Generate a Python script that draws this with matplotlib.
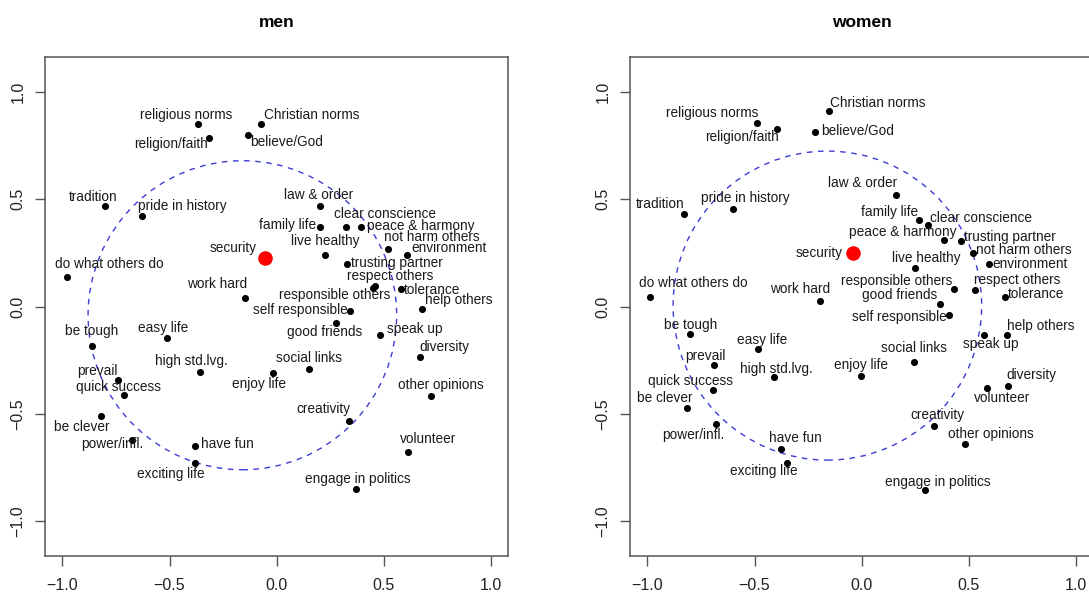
import matplotlib
matplotlib.use('Agg')
import matplotlib.pyplot as plt
from matplotlib.patches import Circle

plt.rcParams['font.family'] = ['Liberation Sans', 'DejaVu Sans']

labels = ['religious norms', 'religion/faith', 'Christian norms', 'believe/God',
          'tradition', 'pride in history', 'do what others do', 'security',
          'work hard', 'law & order', 'family life', 'clear conscience',
          'peace & harmony', 'live healthy', 'not harm others', 'environment',
          'trusting partner', 'respect others', 'responsible others', 'tolerance',
          'help others', 'self responsible', 'good friends', 'speak up',
          'diversity', 'social links', 'enjoy life', 'other opinions',
          'creativity', 'volunteer', 'engage in politics', 'be tough',
          'easy life', 'high std.lvg.', 'prevail', 'quick success',
          'be clever', 'power/infl.', 'have fun', 'exciting life']

men_x = [-0.369, -0.317, -0.071, -0.134, -0.803, -0.627, -0.979, -0.053,
         -0.146, 0.204, 0.201, 0.323, 0.395, 0.225, 0.518, 0.608,
         0.330, 0.457, 0.449, 0.579, 0.678, 0.344, 0.279, 0.481,
         0.667, 0.149, -0.017, 0.719, 0.339, 0.615, 0.372, -0.863,
         -0.510, -0.359, -0.741, -0.713, -0.820, -0.675, -0.383, -0.383]
men_y = [0.851, 0.784, 0.851, 0.801, 0.469, 0.423, 0.138, 0.229,
         0.041, 0.469, 0.373, 0.369, 0.373, 0.243, 0.268, 0.243,
         0.200, 0.094, 0.088, 0.082, -0.009, -0.021, -0.074, -0.130,
         -0.235, -0.289, -0.309, -0.417, -0.531, -0.676, -0.849, -0.184,
         -0.147, -0.303, -0.341, -0.414, -0.508, -0.621, -0.649, -0.727]

women_x = [-0.487, -0.397, -0.151, -0.219, -0.829, -0.599, -0.986, -0.040,
           -0.193, 0.162, 0.268, 0.310, 0.385, 0.251, 0.520, 0.593,
           0.462, 0.528, 0.430, 0.671, 0.676, 0.409, 0.367, 0.573,
           0.682, 0.243, -0.003, 0.481, 0.338, 0.585, 0.294, -0.800,
           -0.486, -0.408, -0.691, -0.696, -0.815, -0.678, -0.376, -0.350]
women_y = [0.854, 0.829, 0.910, 0.816, 0.434, 0.455, 0.047, 0.248,
           0.024, 0.521, 0.403, 0.380, 0.310, 0.179, 0.249, 0.201,
           0.305, 0.078, 0.083, 0.047, -0.133, -0.041, 0.013, -0.131,
           -0.372, -0.256, -0.321, -0.638, -0.554, -0.380, -0.854, -0.128,
           -0.197, -0.326, -0.273, -0.388, -0.470, -0.545, -0.662, -0.727]

# dashed circle: centre x, centre y, radius
men_circle = (-0.16, -0.04, 0.72)
women_circle = (-0.16, 0.005, 0.72)

tick_vals = [-1.0, -0.5, 0.0, 0.5, 1.0]
tick_text = ['\u22121.0', '\u22120.5', '0.0', '0.5', '1.0']

# label offsets from the dot, in pixels (right, down)
men_off = [(-11, -9), (-38, 6), (50, -9), (39, 7), (-11, -9), (40, -10),
           (42, -13), (-32, -10), (-28, -14), (-2, -11), (-32, -2), (39, -13),
           (59, -1), (0, -14), (44, -12), (42, -7), (50, -1), (16, -10),
           (-38, 7), (31, 1), (37, -9), (-50, -1), (-12, 9), (35, -6),
           (25, -10), (0, -11), (-14, 11), (10, -11), (-26, -12), (20, -13),
           (1, -10), (0, -15), (-4, -10), (-8, -11), (-21, -9), (-5, -8),
           (-19, 11), (-20, 4), (33, -2), (-24, 11)]
women_off = [(-45, -10), (-35, 8), (48, -8), (43, -1), (-24, -10), (12, -11),
             (43, -14), (-34, 0), (-20, -12), (-34, -12), (-30, -8), (53, -7),
             (-41, -8), (11, -10), (51, -3), (41, 0), (49, -4), (42, -10),
             (-57, -8), (31, -3), (34, -9), (-50, 2), (-41, -9), (6, 9),
             (24, -11), (0, -14), (0, -11), (26, -10), (3, -11), (15, 10),
             (13, -8), (0, -9), (5, -9), (2, -8), (-8, -9), (-22, -9),
             (-22, -10), (-23, 11), (14, -11), (-23, 8)]

fig = plt.figure(figsize=(10.89, 5.97), dpi=100)


def panel(rect, title, xs, ys, offs, circ):
    ax = fig.add_axes(rect)
    ax.set_xlim(-1.081, 1.081)
    ax.set_ylim(-1.162, 1.162)
    for sp in ax.spines.values():
        sp.set_color('#555555')
        sp.set_linewidth(1.1)
    ax.set_xticks(tick_vals)
    ax.set_xticklabels(tick_text, fontsize=11.5)
    ax.set_yticks(tick_vals)
    ax.set_yticklabels(tick_text, fontsize=11.5, rotation=90, va='center')
    ax.tick_params(length=7, width=1, color='#555555', labelcolor='#222222')
    ax.tick_params(axis='x', pad=9)
    ax.tick_params(axis='y', pad=7)
    ax.set_title(title, fontsize=12.5, fontweight='bold', pad=22)

    ax.add_patch(Circle((circ[0], circ[1]), circ[2], fill=False,
                        edgecolor='#3b3bd6', lw=1.0, linestyle=(0, (4, 4))))

    sec = labels.index('security')
    for i in range(len(labels)):
        if i == sec:
            ax.scatter(xs[i], ys[i], s=110, color='red', zorder=3, linewidths=0)
        else:
            ax.scatter(xs[i], ys[i], s=26, color='black', zorder=3, linewidths=0)
        ax.annotate(labels[i], (xs[i], ys[i]), xytext=(offs[i][0], -offs[i][1]),
                    textcoords='offset pixels', ha='center', va='center',
                    fontsize=9.8, color='#1a1a1a', zorder=4)
    return ax


panel([45 / 1089, 1 - 556 / 597, 463.3 / 1089, 498.7 / 597], 'men',
      men_x, men_y, men_off, men_circle)
panel([630 / 1089, 1 - 556 / 597, 463.3 / 1089, 498.7 / 597], 'women',
      women_x, women_y, women_off, women_circle)

fig.savefig('out.png', dpi=100)
